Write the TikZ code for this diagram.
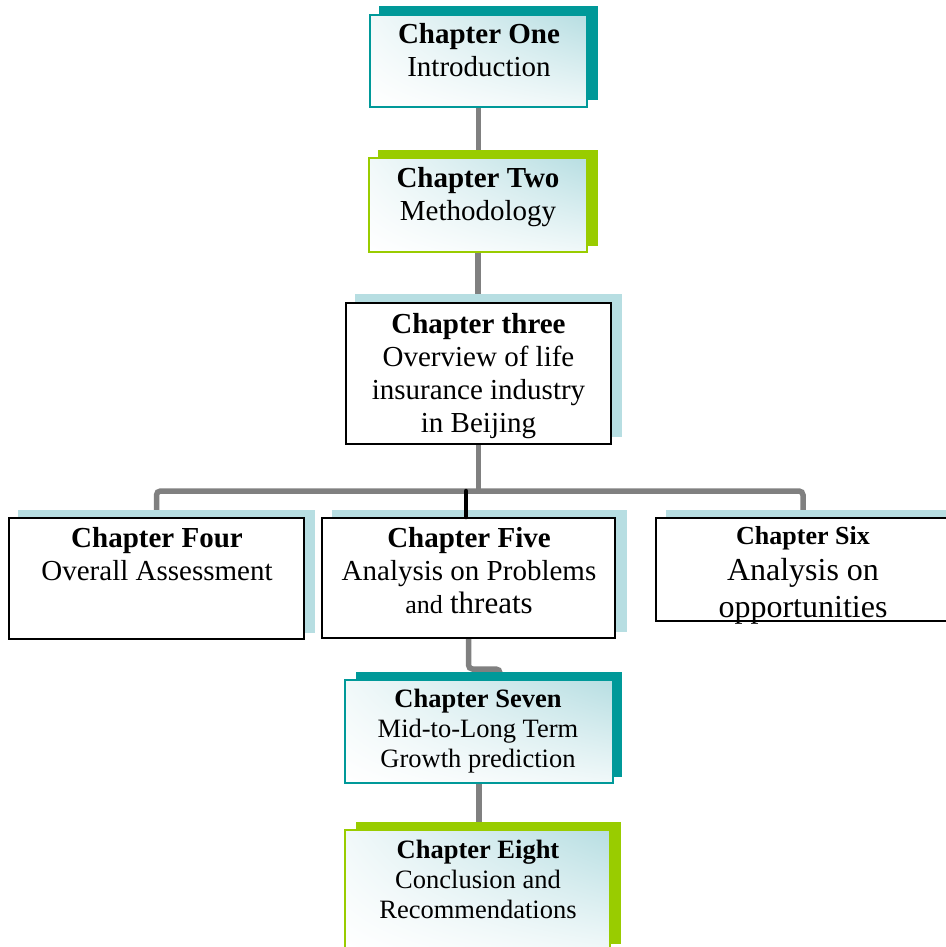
\documentclass[tikz,border=0pt]{standalone}
\usepackage{fontspec}
\setmainfont{Liberation Serif}
\usetikzlibrary{shadings}
\definecolor{tealdk}{HTML}{009999}
\definecolor{limegr}{HTML}{99CC00}
\definecolor{paleblue}{HTML}{B7DEE2}
\definecolor{wiregray}{HTML}{808080}
\pgfdeclarelayer{wires}
\pgfdeclarelayer{shadows}
\pgfsetlayers{wires,shadows,main}
\tikzset{
  box/.style={rectangle, inner sep=0pt, line width=2pt},
  plainbox/.style={box, draw=black, fill=white},
  % pale tint gathering in the upper right corner
  tintfill/.style={upper right=paleblue, upper left=white!80!paleblue,
    lower left=white, lower right=white!80!paleblue},
  tealbox/.style={box, draw=tealdk, tintfill},
  limebox/.style={box, draw=limegr, tintfill},
  wireline/.style={draw=wiregray, line width=5.5pt},
  stub/.style={draw=black, line width=4.5pt, line cap=round},
  caption/.style={anchor=north, inner sep=0pt, align=center,
    font=\fontsize{29}{33}\selectfont},
  smallcaption/.style={caption, font=\fontsize{26.5}{30}\selectfont},
}
\begin{document}
\begin{tikzpicture}[x=1pt, y=-1pt]
\useasboundingbox (0,0) rectangle (945,947);

% chapter boxes
\node[tealbox,  minimum width=217pt, minimum height=92pt]  (b1) at (478.5,61) {};
\node[limebox,  minimum width=218pt, minimum height=94pt]  (b2) at (478,205) {};
\node[plainbox, minimum width=265pt, minimum height=141pt] (b3) at (478.5,373.5) {};
\node[plainbox, minimum width=295pt, minimum height=121pt] (b4) at (156.5,578.5) {};
\node[plainbox, minimum width=293pt, minimum height=120pt] (b5) at (468.5,578) {};
\node[plainbox, minimum width=294pt, minimum height=103pt] (b6) at (803,569.5) {};
\node[tealbox,  minimum width=268pt, minimum height=103pt] (b7) at (479,731.5) {};
\node[limebox,  minimum width=265pt, minimum height=120pt] (b8) at (477.5,890) {};

% offset shadows behind the boxes
\begin{pgfonlayer}{shadows}
\fill[tealdk]   ([shift={(10pt,8pt)}]b1.south west) rectangle ([shift={(10pt,8pt)}]b1.north east);
\fill[limegr]   ([shift={(10pt,7pt)}]b2.south west) rectangle ([shift={(10pt,7pt)}]b2.north east);
\fill[paleblue] ([shift={(10pt,8pt)}]b3.south west) rectangle ([shift={(10pt,8pt)}]b3.north east);
\fill[paleblue] ([shift={(10pt,7pt)}]b4.south west) rectangle ([shift={(10pt,7pt)}]b4.north east);
\fill[paleblue] ([shift={(11pt,7pt)}]b5.south west) rectangle ([shift={(11pt,7pt)}]b5.north east);
\fill[paleblue] ([shift={(11pt,7pt)}]b6.south west) rectangle ([shift={(11pt,7pt)}]b6.north east);
\fill[tealdk]   ([shift={(12pt,7pt)}]b7.south west) rectangle ([shift={(8pt,7pt)}]b7.north east);
\fill[limegr]   ([shift={(12pt,7pt)}]b8.south west) rectangle ([shift={(10pt,7pt)}]b8.north east);
\end{pgfonlayer}

% connectors
\coordinate (bus) at (477,491);
\coordinate (elbow) at (500,669);
\begin{pgfonlayer}{wires}
\draw[wireline] (b1.south) -- (b1.south |- b2.north);
\draw[wireline] (b2.south) -- (b2.south |- b3.north);
\draw[wireline] (b3.south) -- (b3.south |- bus);
\draw[wireline, rounded corners=4pt] (b4.north) |- (bus) -| (b6.north);
\draw[wireline, rounded corners=4pt] (b5.south) |- (elbow) -- (elbow |- b7.north);
\draw[wireline] (b7.south) -- (b7.south |- b8.north);
\end{pgfonlayer}
\draw[stub] ([xshift=-2.5pt]b5.north |- bus) -- ([xshift=-2.5pt]b5.north);

% chapter titles
\node[caption] (t1) at (479,19)
  {\rule{0pt}{24pt}\textbf{Chapter One}\\Introduction};
\node[caption] (t2) at (478,163)
  {\rule{0pt}{24pt}\textbf{Chapter Two}\\Methodology};
\node[caption] (t3) at (478.5,309)
  {\rule{0pt}{24pt}\textbf{Chapter three}\\Overview of life\\insurance industry\\in Beijing};
\node[caption] (t4) at (157,523)
  {\rule{0pt}{24pt}\textbf{Chapter Four}\\Overall Assessment};
\node[caption] (t5) at (469,523)
  {\rule{0pt}{24pt}\textbf{Chapter Five}\\Analysis on Problems\\{\fontsize{26}{30}\selectfont and} {\fontsize{31}{33}\selectfont threats}};
\node[caption, font=\fontsize{32}{36.5}\selectfont] (t6) at (803,522)
  {\rule{0pt}{22pt}{\fontsize{26}{30}\selectfont\bfseries Chapter Six}\\Analysis on\\opportunities};
\node[smallcaption] (t7) at (478,685)
  {\rule{0pt}{22pt}\textbf{Chapter Seven}\\Mid-to-Long Term\\Growth prediction};
\node[smallcaption] (t8) at (478,836)
  {\rule{0pt}{22pt}\textbf{Chapter Eight}\\Conclusion and\\Recommendations};
\end{tikzpicture}
\end{document}
